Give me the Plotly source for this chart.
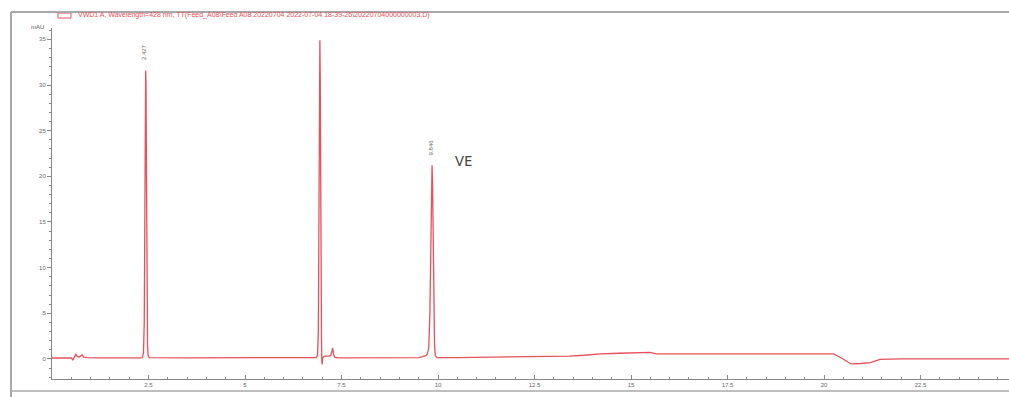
import plotly.graph_objects as go

# retention time (min) and detector signal (mAU)
time_min = [0.0, 0.3, 0.5, 0.54, 0.58, 0.62, 0.66, 0.70, 0.74, 0.78, 0.82, 0.9, 1.2, 1.5, 2.0,
            2.30, 2.34, 2.37, 2.39, 2.40, 2.41, 2.42, 2.427, 2.435, 2.445, 2.455, 2.465, 2.475, 2.49, 2.52,
            3.5, 5.0, 6.0, 6.85,
            6.88, 6.90, 6.915, 6.93, 6.94, 6.95, 6.958, 6.965, 6.97, 6.975, 6.982, 6.99, 7.00, 7.01,
            7.05, 7.15, 7.22, 7.25, 7.27, 7.29, 7.32, 7.4, 8.5, 9.3, 9.5, 9.6, 9.68, 9.72,
            9.76, 9.79, 9.81, 9.83, 9.846, 9.86, 9.875, 9.89, 9.91, 9.93, 9.97,
            10.5, 11.6, 12.5, 13.4, 13.8, 14.2, 14.7, 15.2, 15.5, 15.65, 16.5, 18.0, 19.5, 20.25,
            20.45, 20.7, 20.95, 21.2, 21.45, 22.0, 23.5, 25.0]
signal_mau = [0.1, 0.1, 0.1, -0.1, 0.2, 0.5, 0.25, 0.2, 0.3, 0.45, 0.2, 0.15, 0.12, 0.1, 0.1,
              0.12, 0.15, 0.6, 4.0, 12.0, 22.0, 30.0, 31.6, 30.0, 22.0, 12.0, 5.0, 1.5, 0.4, 0.15,
              0.12, 0.12, 0.12, 0.15,
              0.4, 3.0, 15.0, 30.0, 34.9, 30.0, 18.0, 8.0, 4.6, 4.2, 2.0, -0.2, -0.6, 0.1,
              0.3, 0.3, 0.35, 0.8, 1.2, 0.6, 0.2, 0.12, 0.12, 0.12, 0.15, 0.25, 0.35, 0.5,
              1.2, 5.0, 12.0, 19.0, 21.2, 19.0, 12.0, 5.0, 1.5, 0.4, 0.15,
              0.15, 0.2, 0.22, 0.3, 0.4, 0.55, 0.62, 0.72, 0.72, 0.55, 0.55, 0.55, 0.55, 0.55,
              0.1, -0.55, -0.5, -0.4, -0.05, 0.0, 0.0, 0.0]

peak_times = [2.427, 9.846]
peak_heights = [31.6, 21.2]
peak_labels = ["2.427", "9.846"]

x_ticks = [2.5, 5, 7.5, 10, 12.5, 15, 17.5, 20, 22.5, 25]
x_tick_text = ["2.5", "5", "7.5", "10", "12.5", "15", "17.5", "20", "22.5", "25"]
y_ticks = [0, 5, 10, 15, 20, 25, 30, 35]

legend_text = ("VWD1 A, Wavelength=428 nm, TT(Feed_A08\\Feed A08 20220704 "
               "2022-07-04 18-39-26\\20220704000000003.D)")
compound_label = "VE"
compound_pos = (10.65, 21.8)

W, H = 1009, 397
L, R, T, B = 52, 0, 28, 18
PW, PH = W - L - R, H - T - B


def px(xp):
    return (xp - L) / PW


def py(yp):
    return (H - B - yp) / PH


line_color = "#e8505a"

fig = go.Figure()
fig.add_trace(go.Scatter(x=time_min, y=signal_mau, mode="lines",
                         line=dict(color=line_color, width=1.3), showlegend=False,
                         hoverinfo="skip"))

for t, h, lab in zip(peak_times, peak_heights, peak_labels):
    fig.add_annotation(x=t, y=h, text=lab, showarrow=False, textangle=-90,
                       yanchor="bottom", yshift=8, xshift=-1,
                       font=dict(size=6, color="#666666", family="Liberation Sans"))

fig.add_annotation(x=compound_pos[0], y=compound_pos[1], text=compound_label, showarrow=False,
                   font=dict(size=15, color="#444444", family="Noto Sans"))

# legend-like header
fig.add_shape(type="rect", xref="paper", yref="paper",
              x0=px(58), x1=px(71), y0=py(18), y1=py(13),
              line=dict(color=line_color, width=1))
fig.add_annotation(xref="paper", yref="paper", x=px(76), y=py(15), text=legend_text,
                   showarrow=False, xanchor="left", yanchor="middle",
                   font=dict(size=7, color=line_color, family="Liberation Sans"))
fig.add_annotation(xref="paper", yref="paper", x=px(46), y=py(27), text="mAU",
                   showarrow=False, xanchor="right", yanchor="middle",
                   font=dict(size=6, color="#555555", family="Liberation Sans"))

# outer frame lines
frame = dict(color="#a8a8a8", width=2)
fig.add_shape(type="line", xref="paper", yref="paper", x0=px(11), x1=px(1009),
              y0=py(12), y1=py(12), line=frame)
fig.add_shape(type="line", xref="paper", yref="paper", x0=px(11), x1=px(11),
              y0=py(12), y1=py(397), line=frame)
fig.add_shape(type="line", xref="paper", yref="paper", x0=px(11), x1=px(1009),
              y0=py(391), y1=py(391), line=dict(color="#a8a8a8", width=1.5))

fig.update_xaxes(range=[0, PW / 38.6], tickmode="array", tickvals=x_ticks, ticktext=x_tick_text,
                 showgrid=False, zeroline=False, showline=True, linecolor="#888888", linewidth=1,
                 ticks="inside", ticklen=4, tickcolor="#888888",
                 tickfont=dict(size=6, color="#666666", family="Liberation Sans"),
                 minor=dict(dtick=0.5, ticks="inside", ticklen=2, tickcolor="#888888"))
fig.update_yaxes(range=[-2.2, (H - B - T) / 9.13 - 2.2], tickmode="array", tickvals=y_ticks,
                 showgrid=False, zeroline=False, showline=True, linecolor="#888888", linewidth=1,
                 ticks="outside", ticklen=4, tickcolor="#888888",
                 tickfont=dict(size=6, color="#666666", family="Liberation Sans"),
                 minor=dict(dtick=1, ticks="outside", ticklen=2, tickcolor="#888888"))

fig.update_layout(width=W, height=H, margin=dict(l=L, r=R, t=T, b=B),
                  plot_bgcolor="white", paper_bgcolor="white")

fig.write_html("out.html", config={"displayModeBar": False},
               post_script="document.body.style.margin='0px';document.body.style.overflow='hidden';")
